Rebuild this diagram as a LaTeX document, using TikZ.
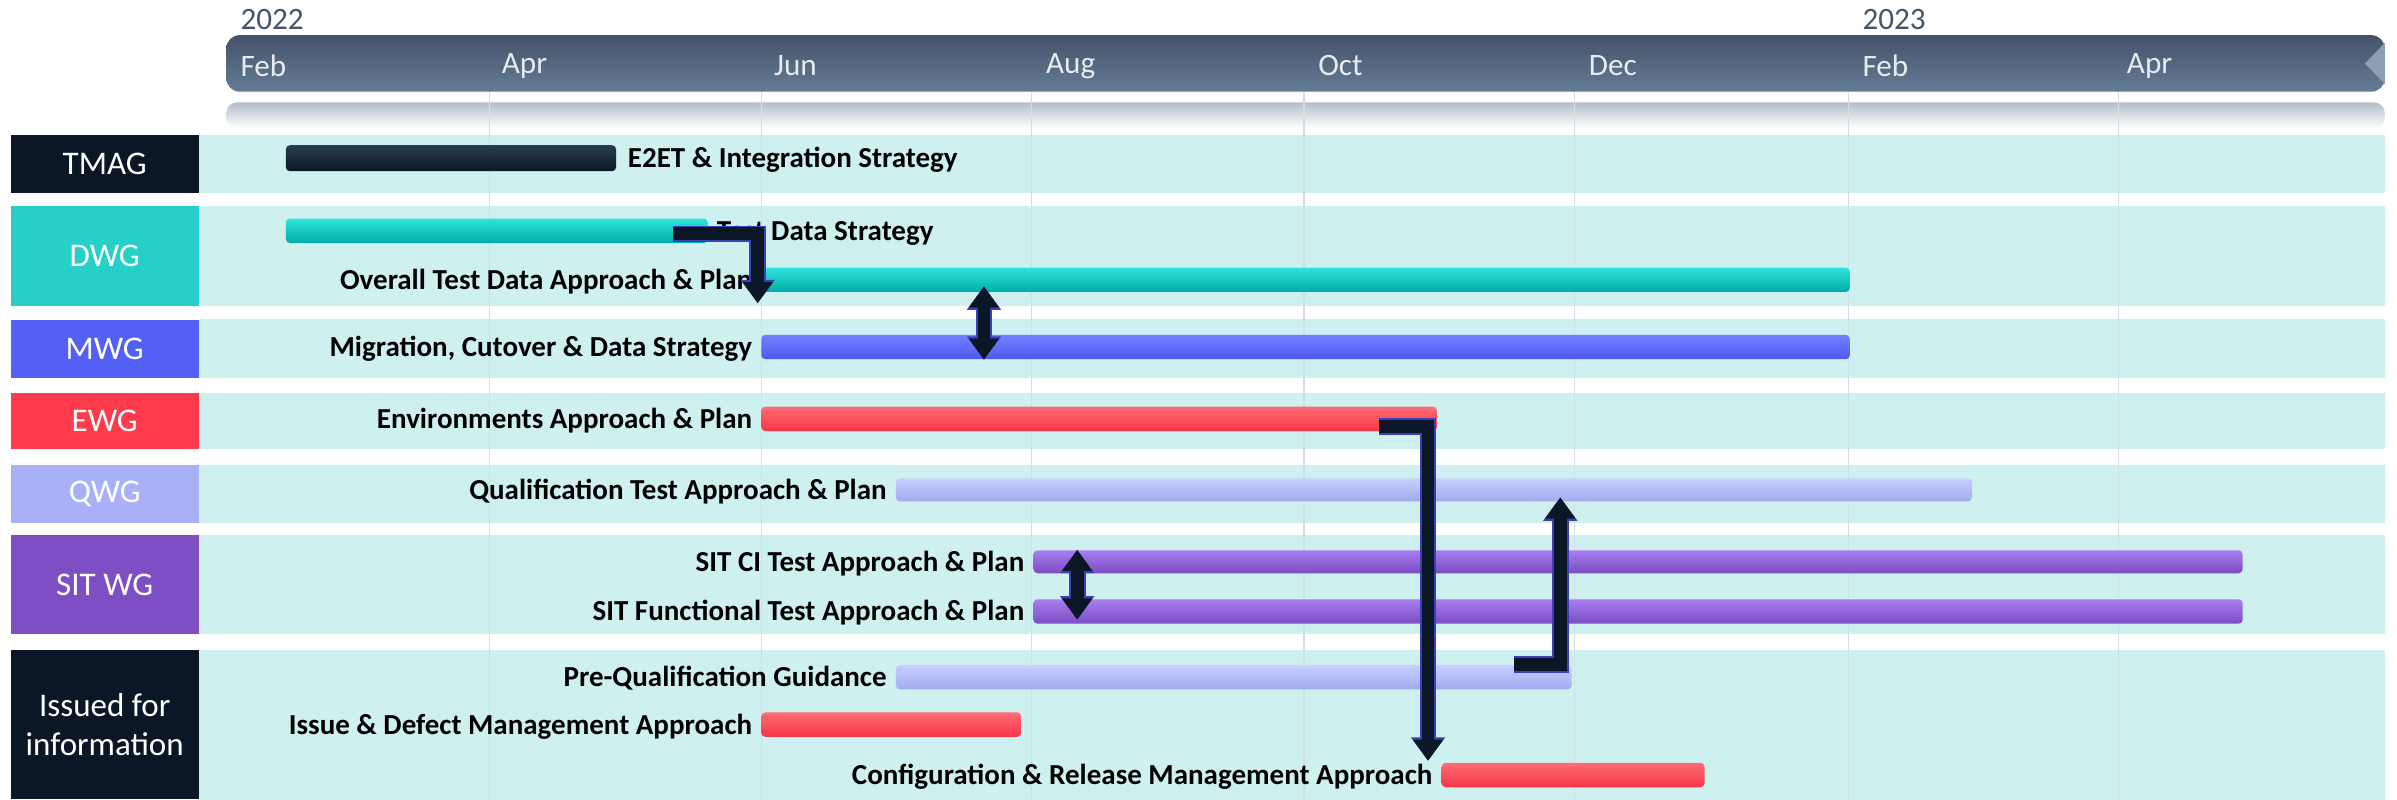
\documentclass[tikz,border=0pt]{standalone}
\usepackage{fontspec}
\setmainfont{Carlito}
\usetikzlibrary{positioning,fit,calc,arrows.meta}
\definecolor{myNavy}{HTML}{0B1727}
\definecolor{navyTop}{HTML}{2B3B50}
\definecolor{dwgTeal}{HTML}{26CFC8}
\definecolor{tealTop}{HTML}{30E4DD}
\definecolor{tealBot}{HTML}{00ADA6}
\definecolor{mwgBlue}{HTML}{5360F6}
\definecolor{blueTop}{HTML}{7282FF}
\definecolor{blueBot}{HTML}{4E59EE}
\definecolor{ewgRed}{HTML}{FF3A4A}
\definecolor{redTop}{HTML}{FF6C78}
\definecolor{redBot}{HTML}{F43545}
\definecolor{qwgLav}{HTML}{A9B0F6}
\definecolor{lavTop}{HTML}{C8CEFF}
\definecolor{lavBot}{HTML}{A2AAF0}
\definecolor{sitPurple}{HTML}{7E4EC5}
\definecolor{purpTop}{HTML}{A97DF2}
\definecolor{purpBot}{HTML}{7A4BC2}
\definecolor{rowBg}{HTML}{CEF0EE}
\definecolor{gridLine}{HTML}{D0DFE6}
\definecolor{tlTop}{HTML}{435369}
\definecolor{tlBot}{HTML}{657C96}
\definecolor{tlEnd}{HTML}{8E9EB2}
\definecolor{stripTop}{HTML}{B6BDC9}
\definecolor{monthText}{HTML}{E6EBF0}
\definecolor{yearText}{HTML}{44546A}
\definecolor{linkBlue}{HTML}{3A40B8}

\begin{document}
\begin{tikzpicture}[x=0.02cm, y=-0.02cm, >={Triangle[width=6pt 1, length=5pt 0.6]}]
  \tikzstyle{G}=[text=white, inner sep=0pt, align=center, minimum width=2.46cm, font=\fontsize{12.3}{14.2}\selectfont]
  \tikzstyle{bar}=[inner sep=0pt, rounded corners=1.5pt]
  \tikzstyle{L}=[inner sep=0pt, text height=7.4pt, text depth=0.4pt, font=\bfseries\fontsize{10.8}{12}\selectfont]
  \tikzstyle{M}=[anchor=west, inner sep=0pt, text=monthText, font=\fontsize{11.6}{13}\selectfont]
  \tikzstyle{Y}=[anchor=west, inner sep=0pt, text=yearText, font=\fontsize{11.6}{13}\selectfont]
  \tikzstyle{link}=[line width=4.8pt, myNavy, line join=miter, preaction={draw=linkBlue, line width=6.2pt}]

  \useasboundingbox (0,0) rectangle (1568,523);

  % timeline
  \shade[top color=tlTop, bottom color=tlBot, rounded corners=5pt] (148,23) rectangle (1560,60);
  \fill[tlEnd] (1560,28) -- (1547,41.5) -- (1560,55) -- cycle;
  \shade[top color=stripTop, bottom color=white, rounded corners=4pt] (148,67) rectangle (1560,84);

  \node[Y] at (157,13) (y2022) {2022};
  \node[Y] at (1218,13) (y2023) {2023};
  \node[M] at (157,43) (mFeb) {Feb};
  \node[M] at (328,43) (mApr) {Apr};
  \node[M] at (506,43) (mJun) {Jun};
  \node[M] at (684,43) (mAug) {Aug};
  \node[M] at (862,43) (mOct) {Oct};
  \node[M] at (1039,43) (mDec) {Dec};
  \node[M] at (1218,43) (mFebB) {Feb};
  \node[M] at (1391,43) (mAprB) {Apr};

  % rows
  \fill[rowBg] (130,88) rectangle (1560,126);
  \fill[rowBg] (130,135) rectangle (1560,200);
  \fill[rowBg] (130,209) rectangle (1560,247);
  \fill[rowBg] (130,257) rectangle (1560,294);
  \fill[rowBg] (130,304) rectangle (1560,342);
  \fill[rowBg] (130,350) rectangle (1560,415);
  \fill[rowBg] (130,425) rectangle (1560,523);

  \draw[gridLine, thin] (320,60) -- (320,523);
  \draw[gridLine, thin] (498,60) -- (498,523);
  \draw[gridLine, thin] (675,60) -- (675,523);
  \draw[gridLine, thin] (853,60) -- (853,523);
  \draw[gridLine, thin] (1030,60) -- (1030,523);
  \draw[gridLine, thin] (1209,60) -- (1209,523);
  \draw[gridLine, thin] (1386,60) -- (1386,523);

  % groups
  \node[G, fill=myNavy, minimum height=0.76cm] at (68.5,107) (tmag) {TMAG};
  \node[G, fill=dwgTeal, minimum height=1.3cm] at (68.5,167.5) (dwg) {DWG};
  \node[G, fill=mwgBlue, minimum height=0.76cm] at (68.5,228) (mwg) {MWG};
  \node[G, fill=ewgRed, minimum height=0.74cm] at (68.5,275.5) (ewg) {EWG};
  \node[G, fill=qwgLav, minimum height=0.76cm] at (68.5,323) (qwg) {QWG};
  \node[G, fill=sitPurple, minimum height=1.3cm] at (68.5,382.5) (sitwg) {SIT WG};
  \node[G, fill=myNavy, minimum height=1.96cm] at (68.5,474) (issued) {Issued for\\information};

  % bars
  \node[bar, top color=navyTop, bottom color=myNavy, fit={(187,95) (403,112)}] (tmagBar) {};
  \node[bar, top color=tealTop, bottom color=tealBot, fit={(187,143) (463,159)}] (tdsBar) {};
  \node[bar, top color=tealTop, bottom color=tealBot, fit={(498,175) (1210,191)}] (odpBar) {};
  \node[bar, top color=blueTop, bottom color=blueBot, fit={(498,219) (1210,235)}] (mcdBar) {};
  \node[bar, top color=redTop, bottom color=redBot, fit={(498,266) (940,282)}] (envBar) {};
  \node[bar, top color=lavTop, bottom color=lavBot, fit={(586,313) (1290,328)}] (qtaBar) {};
  \node[bar, top color=purpTop, bottom color=purpBot, fit={(676,360) (1467,375)}] (sitciBar) {};
  \node[bar, top color=purpTop, bottom color=purpBot, fit={(676,392) (1467,408)}] (sitfBar) {};
  \node[bar, top color=lavTop, bottom color=lavBot, fit={(586,435) (1028,451)}] (pqgBar) {};
  \node[bar, top color=redTop, bottom color=redBot, fit={(498,466) (668,482)}] (idmBar) {};
  \node[bar, top color=redTop, bottom color=redBot, fit={(943,499) (1115,515)}] (crmBar) {};

  \node[L, right=4pt of tmagBar] (tmagTxt) {E2ET \& Integration Strategy};
  \node[L, right=3pt of tdsBar] (tdsTxt) {Test Data Strategy};
  \node[L, left=3pt of odpBar] (odpTxt) {Overall Test Data Approach \& Plan};
  \node[L, left=3pt of mcdBar] (mcdTxt) {Migration, Cutover \& Data Strategy};
  \node[L, left=3pt of envBar] (envTxt) {Environments Approach \& Plan};
  \node[L, left=3pt of qtaBar] (qtaTxt) {Qualification Test Approach \& Plan};
  \node[L, left=3pt of sitciBar] (sitciTxt) {SIT CI Test Approach \& Plan};
  \node[L, left=3pt of sitfBar] (sitfTxt) {SIT Functional Test Approach \& Plan};
  \node[L, left=3pt of pqgBar] (pqgTxt) {Pre-Qualification Guidance};
  \node[L, left=3pt of idmBar] (idmTxt) {Issue \& Defect Management Approach};
  \node[L, left=3pt of crmBar] (crmTxt) {Configuration \& Release Management Approach};

  % dependencies
  \draw[link, ->] ($(tdsBar.east)+(-23,2)$) -| ($(odpBar.south west)+(-2,7)$);
  \draw[link, <->] ($(odpBar.south west)+(146,-4)$) -- ($(mcdBar.south west)+(146,0)$);
  \draw[link, ->] ($(envBar.east)+(-38,5)$) -| ($(crmBar.north west)+(-8.5,-1)$);
  \draw[link, ->] ($(pqgBar.east)+(-38,-8.5)$) -| ($(qtaBar.south west)+(435,-3)$);
  \draw[link, <->] ($(sitciBar.north west)+(29,0)$) -- ($(sitfBar.south west)+(29,-3)$);

\end{tikzpicture}
\end{document}
